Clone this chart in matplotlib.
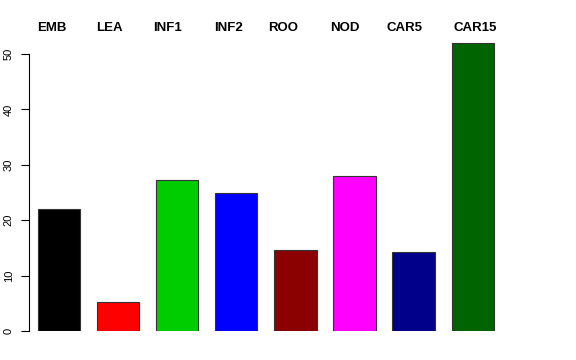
import matplotlib
matplotlib.use('Agg')
import matplotlib.pyplot as plt

plt.rcParams['font.family'] = ['Liberation Sans', 'DejaVu Sans']

# Data
categories = ['EMB', 'LEA', 'INF1', 'INF2', 'ROO', 'NOD', 'CAR5', 'CAR15']
values = [22.0, 5.2, 27.2, 24.9, 14.7, 27.9, 14.2, 52.0]
colors = ['black', 'red', '#00CD00', 'blue', '#8B0000', 'magenta', '#00008B', '#006400']
# label centres (data units) as placed in the original
label_x = [0.72, 2.1, 3.47, 4.92, 6.22, 7.67, 9.09, 10.77]

fig = plt.figure(figsize=(5.76, 3.6), dpi=100)
W, H = 576.0, 360.0
px_unit = 42.2
x_left_px, x_right_px = 29, 560
y0_px, ytop_px = 331, 37.4
ax = fig.add_axes([x_left_px / W, (H - y0_px) / H,
                   (x_right_px - x_left_px) / W, (y0_px - ytop_px) / H])

centers = [0.9 + 1.4 * i for i in range(len(values))]
ax.bar(centers, values, width=1.0, color=colors, edgecolor='#333333', linewidth=0.8)

x0 = 0.4 - (38 - x_left_px) / px_unit
ax.set_xlim(x0, x0 + (x_right_px - x_left_px) / px_unit)
ax.set_ylim(0, 50 * (y0_px - ytop_px) / (y0_px - 54))

for s in ['top', 'right', 'bottom']:
    ax.spines[s].set_visible(False)
ax.spines['left'].set_bounds(0, 50)
ax.spines['left'].set_linewidth(0.8)
ax.set_xticks([])
ax.set_yticks([0, 10, 20, 30, 40, 50])
ax.tick_params(axis='y', length=6, width=0.8, pad=5, labelsize=8)
for lab in ax.get_yticklabels():
    lab.set_rotation(90)
    lab.set_va('center')

for x, name in zip(label_x, categories):
    ax.text(x, 1.0, name, transform=ax.get_xaxis_transform(), ha='center', va='center',
            fontsize=9.5, fontweight='bold')
# move labels to pixel row ~28
for t in ax.texts:
    t.set_transform(matplotlib.transforms.blended_transform_factory(ax.transData, fig.transFigure))
    t.set_y((H - 28) / H)

fig.savefig('out.png', dpi=100)
